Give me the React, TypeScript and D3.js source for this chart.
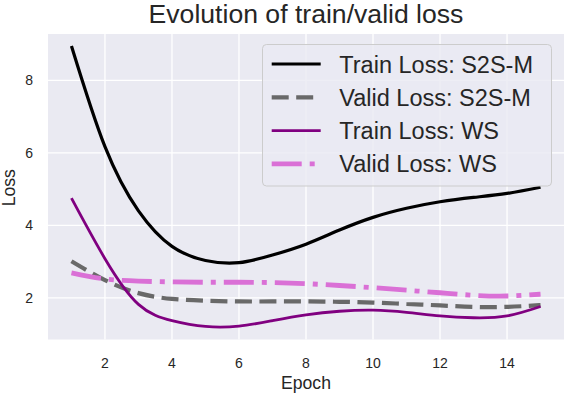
import React from 'react';
import * as d3 from 'd3';

const epochs = [1, 2, 3, 4, 5, 6, 7, 8, 9, 10, 11, 12, 13, 14, 15];
const trainS2SM = [8.95, 6.17, 4.4, 3.42, 3.03, 2.97, 3.18, 3.48, 3.87, 4.22, 4.47, 4.65, 4.77, 4.88, 5.05];
const validS2SM = [3.01, 2.49, 2.13, 1.97, 1.92, 1.9, 1.9, 1.9, 1.89, 1.87, 1.83, 1.79, 1.75, 1.75, 1.8];
const trainWS = [4.75, 3.08, 1.82, 1.37, 1.21, 1.22, 1.37, 1.53, 1.63, 1.66, 1.6, 1.5, 1.45, 1.5, 1.76];
const validWS = [2.69, 2.52, 2.46, 2.44, 2.43, 2.43, 2.42, 2.39, 2.34, 2.28, 2.21, 2.14, 2.07, 2.05, 2.1];

const xTicks = [2, 4, 6, 8, 10, 12, 14];
const yTicks = [2, 4, 6, 8];

const series = [
  { label: 'Train Loss: S2S-M', values: trainS2SM, color: '#000000', width: 3.2, dash: null },
  { label: 'Valid Loss: S2S-M', values: validS2SM, color: '#696969', width: 4.2, dash: '17,7.5' },
  { label: 'Train Loss: WS', values: trainWS, color: '#800080', width: 2.8, dash: null },
  { label: 'Valid Loss: WS', values: validWS, color: '#DA70D6', width: 4.8, dash: '30,8,5,8' },
];

const W = 564;
const H = 394;
const left = 48;
const right = 564;
const top = 34;
const bottom = 339.5;
const font = 'Liberation Sans, Arial, sans-serif';
const textColor = '#262626';

export default function App() {
  const x = d3.scaleLinear().domain([0.3, 15.7]).range([left, right]);
  const y = d3.scaleLinear().domain([0.85, 9.28]).range([bottom, top]);

  const line = d3.line<number>()
    .x((d, i) => x(epochs[i]))
    .y(d => y(d))
    .curve(d3.curveNatural);

  return (
    <svg width={W} height={H} style={{ position: 'absolute', left: 0, top: 0 }}>
      <rect x={0} y={0} width={W} height={H} fill="#ffffff" />
      <rect x={left} y={top} width={right - left} height={bottom - top} fill="#EAEAF2" />
      {xTicks.map(t => (
        <line key={'gx' + t} x1={x(t)} x2={x(t)} y1={top} y2={bottom} stroke="#ffffff" strokeWidth={1.3} />
      ))}
      {yTicks.map(t => (
        <line key={'gy' + t} x1={left} x2={right} y1={y(t)} y2={y(t)} stroke="#ffffff" strokeWidth={1.3} />
      ))}
      {series.map(s => (
        <path
          key={s.label}
          d={line(s.values) || ''}
          fill="none"
          stroke={s.color}
          strokeWidth={s.width}
          strokeDasharray={s.dash || undefined}
        />
      ))}
      {xTicks.map(t => (
        <text key={'tx' + t} x={x(t)} y={367.5} textAnchor="middle" fontFamily={font} fontSize={14} fill={textColor}>
          {t}
        </text>
      ))}
      {yTicks.map(t => (
        <text key={'ty' + t} x={33} y={y(t) + 5} textAnchor="end" fontFamily={font} fontSize={14} fill={textColor}>
          {t}
        </text>
      ))}
      <text x={(left + right) / 2} y={389} textAnchor="middle" fontFamily={font} fontSize={17.6} fill={textColor}>
        Epoch
      </text>
      <text
        transform={`translate(14.5, ${(top + bottom) / 2 + 1}) rotate(-90)`}
        textAnchor="middle"
        fontFamily={font}
        fontSize={17.6}
        fill={textColor}
      >
        Loss
      </text>
      <text x={(left + right) / 2} y={23} textAnchor="middle" fontFamily={font} fontSize={26.6} fill={textColor}>
        Evolution of train/valid loss
      </text>
      <g>
        <rect x={262.5} y={44.5} width={289} height={141.5} rx={4} fill="#EAEAF2" fillOpacity={0.8} stroke="#cccccc" strokeWidth={1} />
        {series.map((s, i) => {
          const cy = 64 + i * 33.3;
          return (
            <g key={'lg' + s.label}>
              <line x1={271.7} x2={320.7} y1={cy} y2={cy} stroke={s.color} strokeWidth={s.width} strokeDasharray={s.dash || undefined} />
              <text x={339.3} y={cy + 8.5} fontFamily={font} fontSize={23.5} fill={textColor}>
                {s.label}
              </text>
            </g>
          );
        })}
      </g>
    </svg>
  );
}
